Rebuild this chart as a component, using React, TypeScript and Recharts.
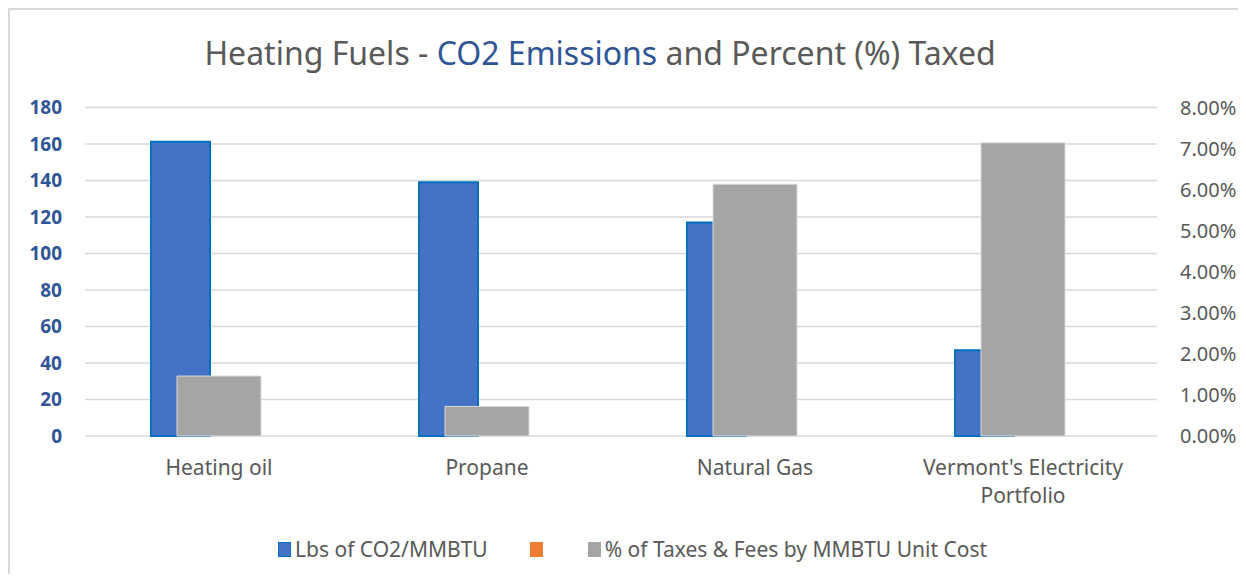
import React from "react";
import {
  Bar,
  BarChart,
  CartesianGrid,
  Legend,
  XAxis,
  YAxis,
} from "recharts";

const categories = [
  "Heating oil",
  "Propane",
  "Natural Gas",
  "Vermont's Electricity Portfolio",
];
const co2Lbs = [161.3, 139, 117, 47];
const blankSeries = [0, 0, 0, 0];
const taxPercent = [1.46, 0.72, 6.13, 7.14];
const leftTicks = [0, 20, 40, 60, 80, 100, 120, 140, 160, 180];
const rightTicks = [0, 1, 2, 3, 4, 5, 6, 7, 8];

const data = categories.map((name, i) => ({
  name,
  co2: co2Lbs[i],
  blank: blankSeries[i],
  tax: taxPercent[i],
}));

const FONT = "'Noto Sans', sans-serif";
const GREY_TEXT = "#595959";
const BLUE_TEXT = "#2F5597";

// wrap long category names the way Excel does (roughly 22 chars a line)
function wrapLabel(label: string, maxChars = 22) {
  const lines: string[] = [];
  let line = "";
  label.split(" ").forEach((word) => {
    const next = line ? `${line} ${word}` : word;
    if (next.length > maxChars && line) {
      lines.push(line);
      line = word;
    } else {
      line = next;
    }
  });
  if (line) lines.push(line);
  return lines;
}

function CategoryTick({ x, y, payload }: any) {
  const lines = wrapLabel(String(payload.value));
  return (
    <text
      x={x}
      y={y}
      textAnchor="middle"
      fill={GREY_TEXT}
      fontSize={21}
      fontFamily={FONT}
    >
      {lines.map((l, i) => (
        <tspan key={i} x={x} dy={i === 0 ? 15 : 28}>
          {l}
        </tspan>
      ))}
    </text>
  );
}

const legendOrder = ["co2", "blank", "tax"];
const legendGaps = [0, 42, 45];
const legendBorders: Record<string, string> = {
  co2: "#0070C0",
  blank: "#ED7D31",
  tax: "#A5A5A5",
};

function LegendContent({ payload }: any) {
  const items = [...(payload || [])].sort(
    (a: any, b: any) => legendOrder.indexOf(a.dataKey) - legendOrder.indexOf(b.dataKey)
  );
  return (
    <div
      style={{
        display: "flex",
        alignItems: "center",
        height: 40,
        fontSize: 21,
        fontFamily: FONT,
        color: GREY_TEXT,
        whiteSpace: "nowrap",
      }}
    >
      {items.map((p: any, i: number) => (
        <div
          key={i}
          style={{ display: "flex", alignItems: "center", marginLeft: legendGaps[i] }}
        >
          <span
            style={{
              display: "inline-block",
              width: 11,
              height: 13,
              background: p.color,
              border: `1px solid ${legendBorders[p.dataKey] || p.color}`,
            }}
          />
          {p.value && p.value.trim() ? (
            <span style={{ marginLeft: 4 }}>{p.value}</span>
          ) : null}
        </div>
      ))}
    </div>
  );
}

export default function App() {
  return (
    <div
      style={{
        position: "relative",
        width: 1230,
        height: 566,
        boxSizing: "border-box",
        borderTop: "2px solid #D9D9D9",
        borderLeft: "2px solid #D9D9D9",
        fontFamily: FONT,
      }}
    >
      <div
        style={{
          position: "absolute",
          top: 27,
          left: 0,
          width: 1180,
          textAlign: "center",
          fontSize: 32,
          lineHeight: "32px",
          color: GREY_TEXT,
          whiteSpace: "nowrap",
        }}
      >
        Heating Fuels - <span style={{ color: BLUE_TEXT }}>CO2 Emissions</span> and
        Percent (%) Taxed
      </div>
      <BarChart
        width={1227}
        height={564}
        data={data}
        margin={{ top: 97.5, right: 0, bottom: 5, left: 0 }}
        barGap={0}
        style={{ position: "absolute", top: 0, left: 0 }}
      >
        <CartesianGrid
          vertical={false}
          stroke="#D9D9D9"
          strokeWidth={1.5}
          xAxisId="a"
          yAxisId="left"
        />
        <XAxis
          xAxisId="a"
          dataKey="name"
          axisLine={false}
          tickLine={false}
          tickSize={0}
          tickMargin={24}
          height={93}
          interval={0}
          tick={<CategoryTick />}
        />
        <XAxis xAxisId="b" dataKey="name" hide />
        <YAxis
          yAxisId="left"
          orientation="left"
          width={75}
          domain={[0, 180]}
          ticks={leftTicks}
          axisLine={false}
          tickLine={false}
          tickSize={0}
          tickMargin={23}
          tick={{ fill: BLUE_TEXT, fontSize: 19, fontWeight: 700, fontFamily: FONT }}
        />
        <YAxis
          yAxisId="right"
          orientation="right"
          width={80}
          domain={[0, 8]}
          ticks={rightTicks}
          axisLine={false}
          tickLine={false}
          tickSize={0}
          tickMargin={23}
          tickFormatter={(v: number) => `${v.toFixed(2)}%`}
          tick={{ fill: GREY_TEXT, fontSize: 20, fontFamily: FONT }}
        />
        <Bar
          xAxisId="a"
          yAxisId="left"
          dataKey="co2"
          name="Lbs of CO2/MMBTU"
          fill="#4472C4"
          stroke="#0070C0"
          strokeWidth={2}
          barSize={59}
          isAnimationActive={false}
        />
        <Bar
          xAxisId="a"
          yAxisId="left"
          dataKey="blank"
          name=" "
          fill="#ED7D31"
          barSize={77}
          isAnimationActive={false}
        />
        <Bar
          xAxisId="b"
          yAxisId="right"
          dataKey="tax"
          name="% of Taxes & Fees by MMBTU Unit Cost"
          fill="#A5A5A5"
          stroke="#D9D9D9"
          strokeWidth={1}
          barSize={84}
          isAnimationActive={false}
        />
        <Legend
          verticalAlign="bottom"
          content={<LegendContent />}
          wrapperStyle={{ left: 268, width: "auto" }}
        />
      </BarChart>
    </div>
  );
}
